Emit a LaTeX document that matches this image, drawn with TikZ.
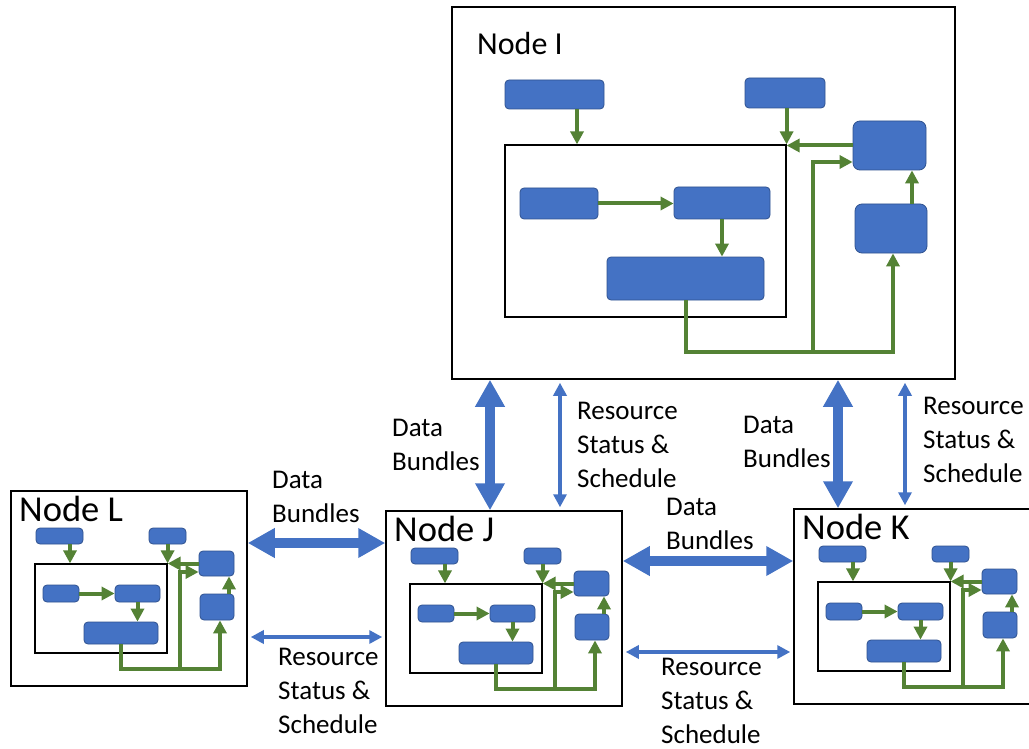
\documentclass[tikz,border=0pt]{standalone}
\usepackage{fontspec}
\setmainfont{Carlito}
\usetikzlibrary{arrows.meta}
\definecolor{bfill}{HTML}{4472C4}
\definecolor{bline}{HTML}{2F528F}
\definecolor{gcol}{HTML}{548235}
\newcommand{\smallnode}[4]{%
\begin{scope}[shift={(#2,#3)}]
\node[frame, minimum width=236, minimum height=195] (#1) at (129,588.5) {};
\node[title, font=\fontsize{36.5}{40}\selectfont] (#1t) at (19,521) {#4};
\node[bbox, minimum width=47, minimum height=16] (#1A) at (59.5,536) {};
\node[bbox, minimum width=37, minimum height=16] (#1B) at (167.5,536) {};
\node[inframe, minimum width=132, minimum height=89] (#1R) at (101,608.5) {};
\node[bbox, minimum width=36, minimum height=17] (#1C) at (61,593.5) {};
\node[bbox, minimum width=45, minimum height=17] (#1D) at (137.5,593.5) {};
\node[bbox, minimum width=74, minimum height=22] (#1E) at (121,633) {};
\node[bbox, minimum width=35, minimum height=25] (#1F) at (216.5,563.5) {};
\node[bbox, minimum width=34, minimum height=26] (#1G) at (217,607) {};
\coordinate (#1a) at ([xshift=10.5pt]#1A.south);
\draw[garrow] (#1a) -- (#1a |- #1R.north);
\draw[garrow] (#1B.south -| #1R.east) -- (#1R.north east);
\draw[garrow] (#1F.west) -- (#1F.west -| #1R.east);
\draw[garrow] (#1C.east) -- (#1D.west);
\draw[garrow] (#1D.south) -- (#1D.south |- #1E.north);
\coordinate (#1b) at ([yshift=-25pt]#1E.south);
\coordinate (#1g) at ([xshift=3pt]#1G.south);
\draw[garrow] (#1E.south) -- (#1b) -| (#1g);
\coordinate (#1j) at ([xshift=59pt]#1b);
\coordinate (#1f) at ([yshift=-8.5pt]#1F.west);
\draw[garrow] (#1j) |- (#1f);
\coordinate (#1h) at ([xshift=12pt]#1G.north);
\draw[garrow] (#1h) -- (#1h |- #1F.south);
\end{scope}}
\begin{document}
\begin{tikzpicture}[x=1pt,y=-1pt,
  frame/.style={draw=black, line width=1.5pt, inner sep=0pt, fill=white},
  inframe/.style={draw=black, line width=1.2pt, inner sep=0pt},
  bbox/.style={draw=bline, fill=bfill, line width=0.8pt, rounded corners=4pt, inner sep=0pt},
  garrow/.style={draw=gcol, line width=4pt, -{Triangle[width=13pt,length=13pt]}},
  title/.style={anchor=base west, inner sep=0pt, font=\fontsize{34}{40}\selectfont},
  lbl/.style={anchor=base west, align=left, inner sep=0pt, font=\fontsize{27}{34}\selectfont},
  tarrow/.style={draw=bfill, line width=10pt, {Triangle[width=28pt,length=27pt]}-{Triangle[width=28pt,length=27pt]}},
  sarrow/.style={draw=bfill, line width=3.5pt, {Triangle[width=13pt,length=13pt]}-{Triangle[width=13pt,length=13pt]}, shorten >=3pt, shorten <=3pt}
]
\fill[white] (0,0) rectangle (1029,749);
\useasboundingbox (0,0) rectangle (1029,749);
% Node I
\node[frame, minimum width=503, minimum height=372] (I) at (703.5,193) {};
\node[title, font=\fontsize{32}{40}\selectfont] (It) at (477,55) {Node I};
\node[bbox, minimum width=99, minimum height=29] (IA) at (554.5,94.5) {};
\node[bbox, minimum width=80, minimum height=30] (IB) at (785,93) {};
\node[inframe, minimum width=281, minimum height=172] (IR) at (645.5,231) {};
\node[bbox, minimum width=78, minimum height=31] (IC) at (559,203.5) {};
\node[bbox, minimum width=96, minimum height=32] (ID) at (722,203) {};
\node[bbox, minimum width=157, minimum height=43] (IE) at (685.5,278.5) {};
\node[bbox, minimum width=73, minimum height=49, rounded corners=7pt] (IF) at (889.5,145.5) {};
\node[bbox, minimum width=72, minimum height=49, rounded corners=7pt] (IG) at (891,228.5) {};
\coordinate (Ia) at ([xshift=22.5pt]IA.south);
\draw[garrow] (Ia) -- (Ia |- IR.north);
\draw[garrow] (IB.south -| IR.east) -- (IR.north east);
\draw[garrow] (IF.west) -- (IF.west -| IR.east);
\draw[garrow] (IC.east) -- (IC.east -| ID.west);
\draw[garrow] (ID.south) -- (ID.south |- IE.north);
\coordinate (Ib) at ([yshift=-52pt]IE.south);
\coordinate (Ig) at ([xshift=2pt]IG.south);
\draw[garrow] (IE.south) -- (Ib) -| (Ig);
\coordinate (Ij) at ([xshift=127.5pt]Ib);
\coordinate (If) at ([yshift=-16.5pt]IF.west);
\draw[garrow] (Ij) |- (If);
\coordinate (Ih) at ([xshift=21pt]IG.north);
\draw[garrow] (Ih) -- (Ih |- IF.south);
% small nodes
\smallnode{L}{0}{0}{Node L}
\smallnode{J}{375}{20}{Node J}
\smallnode{K}{783}{18}{Node K}
% inter-node arrows
\coordinate (v1) at (490,0);
\coordinate (v2) at (560,0);
\coordinate (v3) at (838,0);
\coordinate (v4) at (905,0);
\draw[tarrow] (v1 |- I.south) -- (v1 |- J.north);
\draw[sarrow] (v2 |- I.south) -- (v2 |- J.north);
\draw[tarrow] (v3 |- I.south) -- (v3 |- K.north);
\draw[sarrow] (v4 |- I.south) -- (v4 |- K.north);
\coordinate (h1) at (0,543);
\coordinate (h2) at (0,637);
\coordinate (h3) at (0,561);
\coordinate (h4) at (0,652);
\draw[tarrow] (L.east |- h1) -- (J.west |- h1);
\draw[sarrow] (L.east |- h2) -- (J.west |- h2);
\draw[tarrow] (J.east |- h3) -- (K.west |- h3);
\draw[sarrow] (J.east |- h4) -- (K.west |- h4);
% labels (anchor = baseline of last line)
\node[lbl] (db1) at (392,470) {Data\\Bundles};
\node[lbl] (rs1) at (577,487) {Resource\\Status \&\\Schedule};
\node[lbl] (db2) at (743,467) {Data\\Bundles};
\node[lbl] (rs2) at (923,482) {Resource\\Status \&\\Schedule};
\node[lbl] (db3) at (272,522) {Data\\Bundles};
\node[lbl] (rs3) at (278,733) {Resource\\Status \&\\Schedule};
\node[lbl] (db4) at (666,549) {Data\\Bundles};
\node[lbl] (rs4) at (661,743) {Resource\\Status \&\\Schedule};
\end{tikzpicture}
\end{document}
